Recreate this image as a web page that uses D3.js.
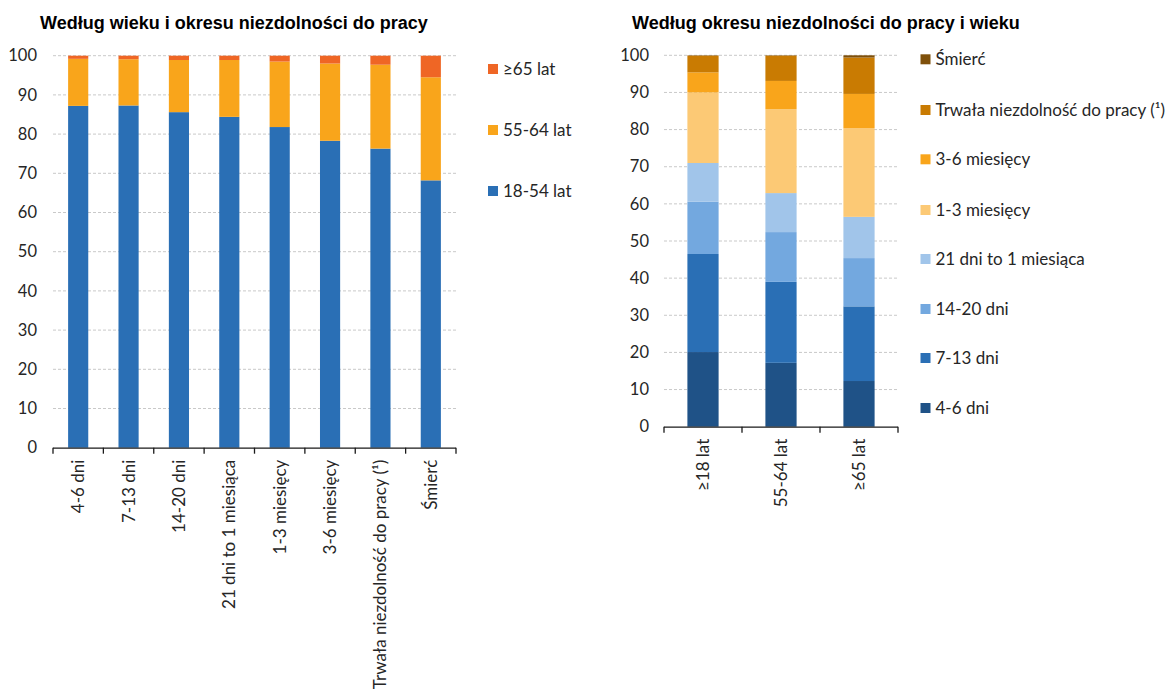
<!DOCTYPE html>
<html><head><meta charset="utf-8">
<script src="https://cdn.jsdelivr.net/npm/d3@7"></script>
<style>
body{margin:0;background:#fff;}
svg{display:block;}
text{font-family:Lato,"Open Sans",sans-serif;fill:#262626;}
.title{font-family:"Liberation Sans",Arial,sans-serif;font-weight:bold;font-size:18px;fill:#000;}
</style></head>
<body>
<svg id="c" width="1169" height="691"></svg>
<script>
// ---- Left chart data ----
const leftCategories = ["4-6 dni","7-13 dni","14-20 dni","21 dni to 1 miesiąca","1-3 miesięcy","3-6 miesięcy","Trwała niezdolność do pracy (¹)","Śmierć"];
const leftSeriesNames = ["18-54 lat","55-64 lat","≥65 lat"];
const left18_54 = [87.2,87.3,85.6,84.4,81.8,78.3,76.3,68.2];
const left55_64 = [12.0,11.8,13.3,14.5,16.7,19.7,21.4,26.3];
const left65 = [0.8,0.9,1.1,1.1,1.5,2.0,2.3,5.5];
const leftColors = ["#2a6fb5","#f9a51b","#ef6625"];

// ---- Right chart data ----
const rightCategories = ["≥18 lat","55-64 lat","≥65 lat"];
const rightSeriesNames = ["4-6 dni","7-13 dni","14-20 dni","21 dni to 1 miesiąca","1-3 miesięcy","3-6 miesięcy","Trwała niezdolność do pracy (¹)","Śmierć"];
const r4_6 = [20.1,17.2,12.3];
const r7_13 = [26.4,21.8,20.1];
const r14_20 = [14.1,13.4,13.0];
const r21_1m = [10.4,10.5,11.1];
const r1_3m = [19.0,22.6,23.9];
const r3_6m = [5.4,7.6,9.2];
const rTrwala = [4.5,6.8,9.8];
const rSmierc = [0.1,0.1,0.6];
const rightColors = ["#1f5287","#2a6fb5","#73a8df","#a1c5ea","#fcc975","#f9a51b","#c97b02","#7f500a"];

const yTicks = [0,10,20,30,40,50,60,70,80,90,100];

const svg = d3.select("#c");

function drawChart(cfg){
  const g = svg.append("g");
  const x = d3.scaleBand().domain(cfg.categories).range([cfg.x0,cfg.x1]).paddingInner(cfg.pad).paddingOuter(cfg.pad/2);
  const y = d3.scaleLinear().domain([0,100]).range([cfg.y0,cfg.y1]);
  // gridlines
  g.selectAll("line.grid").data(yTicks.filter(d=>d>0)).enter().append("line")
    .attr("x1",cfg.x0).attr("x2",cfg.x1).attr("y1",d=>y(d)).attr("y2",d=>y(d))
    .attr("stroke","#c9c9c9").attr("stroke-width",1).attr("stroke-dasharray","3,2");
  // y labels
  g.selectAll("text.yl").data(yTicks).enter().append("text")
    .attr("x",cfg.x0-cfg.labelGap).attr("y",d=>y(d)).attr("dy","0.35em")
    .attr("text-anchor","end").style("font-size","16.5px").text(d=>d);
  // stacked bars
  const rows = cfg.categories.map((c,i)=>{const o={cat:c}; cfg.series.forEach((s,j)=>o[s]=cfg.values[j][i]); return o;});
  const stack = d3.stack().keys(cfg.series)(rows);
  stack.forEach((layer,j)=>{
    g.selectAll(null).data(layer).enter().append("rect")
      .attr("x",d=>x(d.data.cat)).attr("width",x.bandwidth())
      .attr("y",d=>y(d[1])).attr("height",d=>y(d[0])-y(d[1]))
      .attr("fill",cfg.colors[j]);
  });
  // x axis
  g.append("line").attr("x1",cfg.x0).attr("x2",cfg.x1).attr("y1",cfg.y0+0.5).attr("y2",cfg.y0+0.5)
    .attr("stroke","#1a1a1a").attr("stroke-width",1.3);
  const step = x.step();
  const bounds = d3.range(cfg.categories.length+1).map(i=>cfg.x0+i*step);
  g.selectAll(null).data(bounds).enter().append("line")
    .attr("x1",d=>d).attr("x2",d=>d).attr("y1",cfg.y0).attr("y2",cfg.y0+6)
    .attr("stroke","#1a1a1a").attr("stroke-width",1.3);
  g.selectAll(null).data(cfg.categories).enter().append("text")
    .attr("transform",d=>`translate(${x(d)+x.bandwidth()/2},${cfg.y0+12}) rotate(-90)`)
    .attr("text-anchor","end").attr("dy","0.35em").style("font-size","17px").text(d=>d);
  // title
  g.append("text").attr("class","title").attr("x",cfg.titleX).attr("y",29).text(cfg.title);
  // legend
  cfg.legend.forEach((l,i)=>{
    g.append("rect").attr("x",cfg.legX).attr("y",l.y-5).attr("width",10).attr("height",10).attr("fill",l.color);
    g.append("text").attr("x",cfg.legX+15).attr("y",l.y).attr("dy","0.35em").style("font-size","17px").text(l.name);
  });
}

drawChart({
  categories:leftCategories, series:leftSeriesNames, values:[left18_54,left55_64,left65], colors:leftColors,
  x0:53,x1:456,y0:447.7,y1:55.7,pad:0.6,labelGap:16,
  title:"Według wieku i okresu niezdolności do pracy", titleX:40,
  legX:488,
  legend:[{name:"≥65 lat",color:leftColors[2],y:69},{name:"55-64 lat",color:leftColors[1],y:130},{name:"18-54 lat",color:leftColors[0],y:191}]
});

const rightLegYs=[408,358,309,259,210,159.3,110,59.3];
drawChart({
  categories:rightCategories, series:rightSeriesNames, values:[r4_6,r7_13,r14_20,r21_1m,r1_3m,r3_6m,rTrwala,rSmierc], colors:rightColors,
  x0:664,x1:898,y0:426.7,y1:55.3,pad:0.6,labelGap:15,
  title:"Według okresu niezdolności do pracy i wieku", titleX:632,
  legX:920.5,
  legend:rightSeriesNames.map((n,i)=>({name:n,color:rightColors[i],y:rightLegYs[i]}))
});
</script>
</body></html>
